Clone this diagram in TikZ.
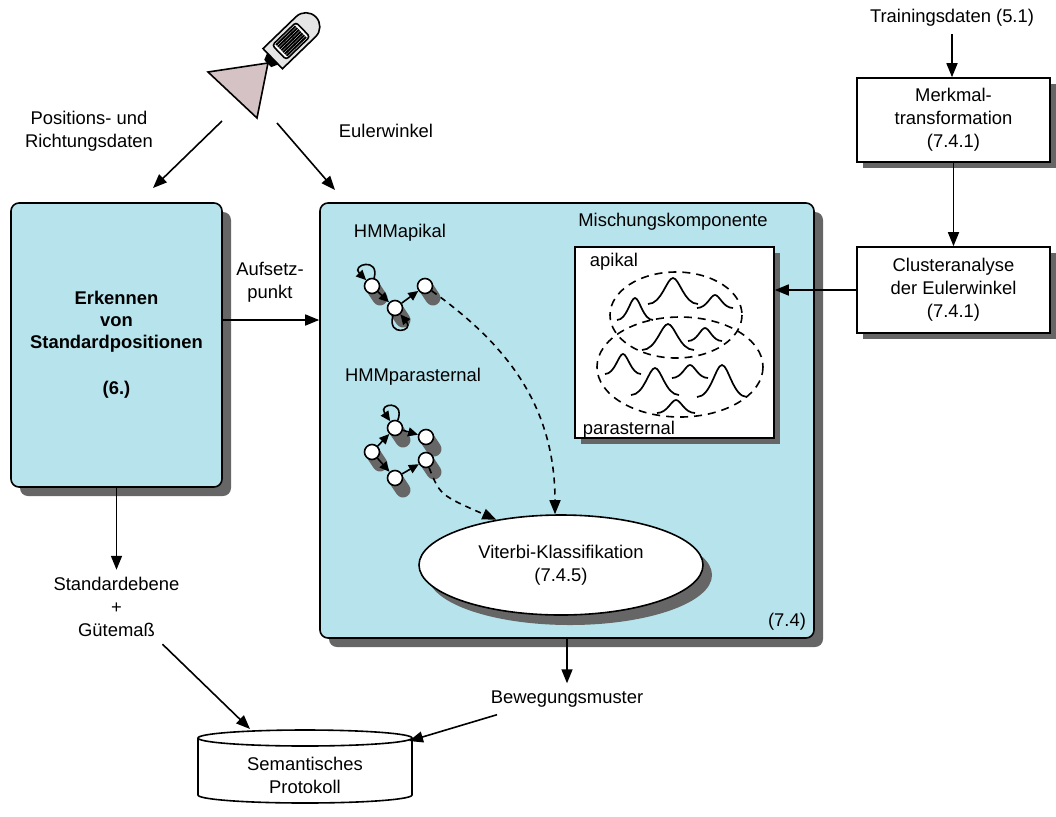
\documentclass[tikz,border=0pt]{standalone}
\usepackage{fontspec}
\setmainfont{Liberation Sans}
\usetikzlibrary{arrows.meta,shadows,shapes.geometric,positioning}

\definecolor{boxcyan}{RGB}{183,228,236}
\definecolor{shadowgray}{RGB}{102,102,102}
\definecolor{beampink}{RGB}{212,194,196}

% bell curve: x, base y, half width, height
\newcommand{\bump}[4]{%
  \draw[bumpline] ({#1-#3},#2) .. controls ({#1-0.45*#3},#2) and ({#1-0.25*#3},{#2-#4}) .. (#1,{#2-#4})
    .. controls ({#1+0.25*#3},{#2-#4}) and ({#1+0.45*#3},#2) .. ({#1+#3},#2);}

\begin{document}
\begin{tikzpicture}[x=0.5pt, y=-0.5pt, line width=0.8pt,
    font=\fontsize{9.2}{11.5}\selectfont,
    >={Triangle[length=7pt,width=5.5pt]},
    procbox/.style={draw, rounded corners=4pt, fill=boxcyan, align=center,
      drop shadow={shadow xshift=4.5pt, shadow yshift=-4.5pt, fill=shadowgray, opacity=1}},
    plainbox/.style={draw, fill=white, align=center,
      drop shadow={shadow xshift=3pt, shadow yshift=-3pt, fill=shadowgray, opacity=1}},
    lbl/.style={align=center},
    state/.style={circle, draw, fill=white, minimum size=7.5pt, inner sep=0pt},
    stateshadow/.style={draw=shadowgray, line width=7.5pt, line cap=round},
    hmmedge/.style={-{Triangle[length=5pt,width=4.5pt]}},
    selfloop/.style={hmmedge, min distance=11pt},
    dasharrow/.style={->, dash pattern=on 3pt off 2.5pt},
    bumpline/.style={line width=0.85pt}]
\useasboundingbox (0,0) rectangle (1056,816);

% camera and its beam
\draw[fill=beampink] (208,72) -- (268,63) -- (257,118) -- cycle;
\begin{scope}[shift={(290,42)}, rotate=44]
  \draw[fill=gray!20] (-24,-14) -- (22,-14) arc[start angle=-90, end angle=90, radius=14] -- (-24,14) -- cycle;
  \draw[fill=white, rounded corners=1.5pt] (-15,-10) rectangle (18,10);
  \foreach \v in {-7.5,-5,...,7.5} \draw[line width=1pt] (-12,\v) -- (15,\v);
  \fill (-24,-8) -- (-31,-5) -- (-31,5) -- (-24,8) -- cycle;
\end{scope}
\coordinate (camL) at (222,121);
\coordinate (camR) at (277,123);
\coordinate (stdIn) at (153,188);
\coordinate (mainIn) at (335,190);
\draw[->] (camL) -- (stdIn);
\draw[->] (camR) -- (mainIn);
\node[lbl] (posdat) at (89,131) {Positions- und\\Richtungsdaten};
\node (euler) at (386,131) {Eulerwinkel};

% left block
\node[procbox, minimum width=105.5pt, minimum height=142pt, font=\fontsize{9.2}{11}\selectfont\bfseries]
  (stdpos) at (116.5,345) {Erkennen\\von\\Standardpositionen\\[12pt](6.)};

% main block
\node[procbox, minimum width=247pt, minimum height=217.5pt] (main) at (567,420.5) {};
\node (sec) at (787,622) {(7.4)};
\draw[->] ([yshift=12.5pt]stdpos.east) -- ([yshift=12.5pt]stdpos.east -| main.west);
\node[lbl] (aufs) at (270,282) {Aufsetz-\\punkt};

% mixture components
\node (mixlbl) at (673,222) {Mischungskomponente};
\node[plainbox, minimum width=99.5pt, minimum height=95.5pt] (mix) at (674.5,342.5) {};
\node (apik) at (614,262) {apikal};
\node (para) at (629,430) {parasternal};
\draw[dashed, dash pattern=on 4pt off 3pt] (676,315) ellipse[x radius=66, y radius=43];
\draw[dashed, dash pattern=on 4pt off 3pt] (680,367) ellipse[x radius=83, y radius=50];
\bump{635}{320}{18}{22}
\bump{673}{304}{25}{26}
\bump{715}{308}{18}{13}
\bump{668}{350}{26}{26}
\bump{705}{341}{17}{13}
\bump{623}{374}{18}{20}
\bump{655}{395}{24}{27}
\bump{690}{378}{18}{13}
\bump{722}{397}{25}{32}
\bump{676}{413}{19}{13}

% HMMs
\node (hmma) at (400,233) {HMMapikal};
\node (hmmp) at (413,377) {HMMparasternal};
\foreach \n/\pos in {a1/{372,286}, a2/{395,308}, a3/{425,286},
    p1/{395,428}, p2/{426,437}, p3/{372,452}, p4/{395,478}, p5/{426,460}} {
  \draw[stateshadow] (\pos) -- ++(8,12);
  \node[state] (\n) at (\pos) {};
}
\draw[selfloop] (a1) to[out=75, in=135] (a1);
\draw[selfloop] (a2) to[out=-105, in=-50] (a2);
\draw[hmmedge] (a1) -- (a2);
\draw[hmmedge] (a2) -- (a3);
\draw[selfloop] (p1) to[out=70, in=125] (p1);
\draw[hmmedge] (p3) -- (p1);
\draw[hmmedge] (p1) -- (p2);
\draw[hmmedge] (p3) -- (p4);
\draw[hmmedge] (p4) -- (p5);

\node[ellipse, draw, fill=white, minimum width=142pt, minimum height=50pt, align=center,
  drop shadow={shadow xshift=4.5pt, shadow yshift=-5pt, fill=shadowgray, opacity=1}]
  (vit) at (561,565) {Viterbi-Klassifikation\\(7.4.5)};
\draw[dasharrow] (a3) .. controls (500,340) and (555,400) .. ([xshift=-3pt]vit.north);
\draw[dasharrow] (p5) .. controls (440,495) .. (vit.145);

% training side
\node (train) at (952,18) {Trainingsdaten (5.1)};
\node[plainbox, minimum width=96.5pt, minimum height=42pt] (merk) at (953.5,120) {Merkmal-\\transformation\\(7.4.1)};
\node[plainbox, minimum width=96.5pt, minimum height=43pt] (clust) at (953.5,290) {Clusteranalyse\\der Eulerwinkel\\(7.4.1)};
\draw[->] (train) -- (train |- merk.north);
\draw[->] (merk) -- (clust);
\draw[->] (clust.west) -- (clust.west -| mix.east);

% outputs
\node[lbl] (stdout) at (116.5,607) {Standardebene\\+\\Gütemaß};
\draw[->] (stdpos) -- (stdout);
\node (bew) at (567,699) {Bewegungsmuster};
\draw[->] (main) -- (bew);

% protocol store
\draw[fill=white] (198,738) -- (198,795) arc[start angle=180, end angle=0, x radius=107, y radius=8] -- (412,738);
\draw[fill=white] (305,738) ellipse[x radius=107, y radius=8];
\node[lbl] (proto) at (305,775) {Semantisches\\Protokoll};
\coordinate (protoL) at (250,729);
\coordinate (protoR) at (409,741);
\draw[->] ([xshift=23pt]stdout.south) -- (protoL);
\draw[->] ([xshift=-35pt]bew.south) -- (protoR);
\end{tikzpicture}
\end{document}
